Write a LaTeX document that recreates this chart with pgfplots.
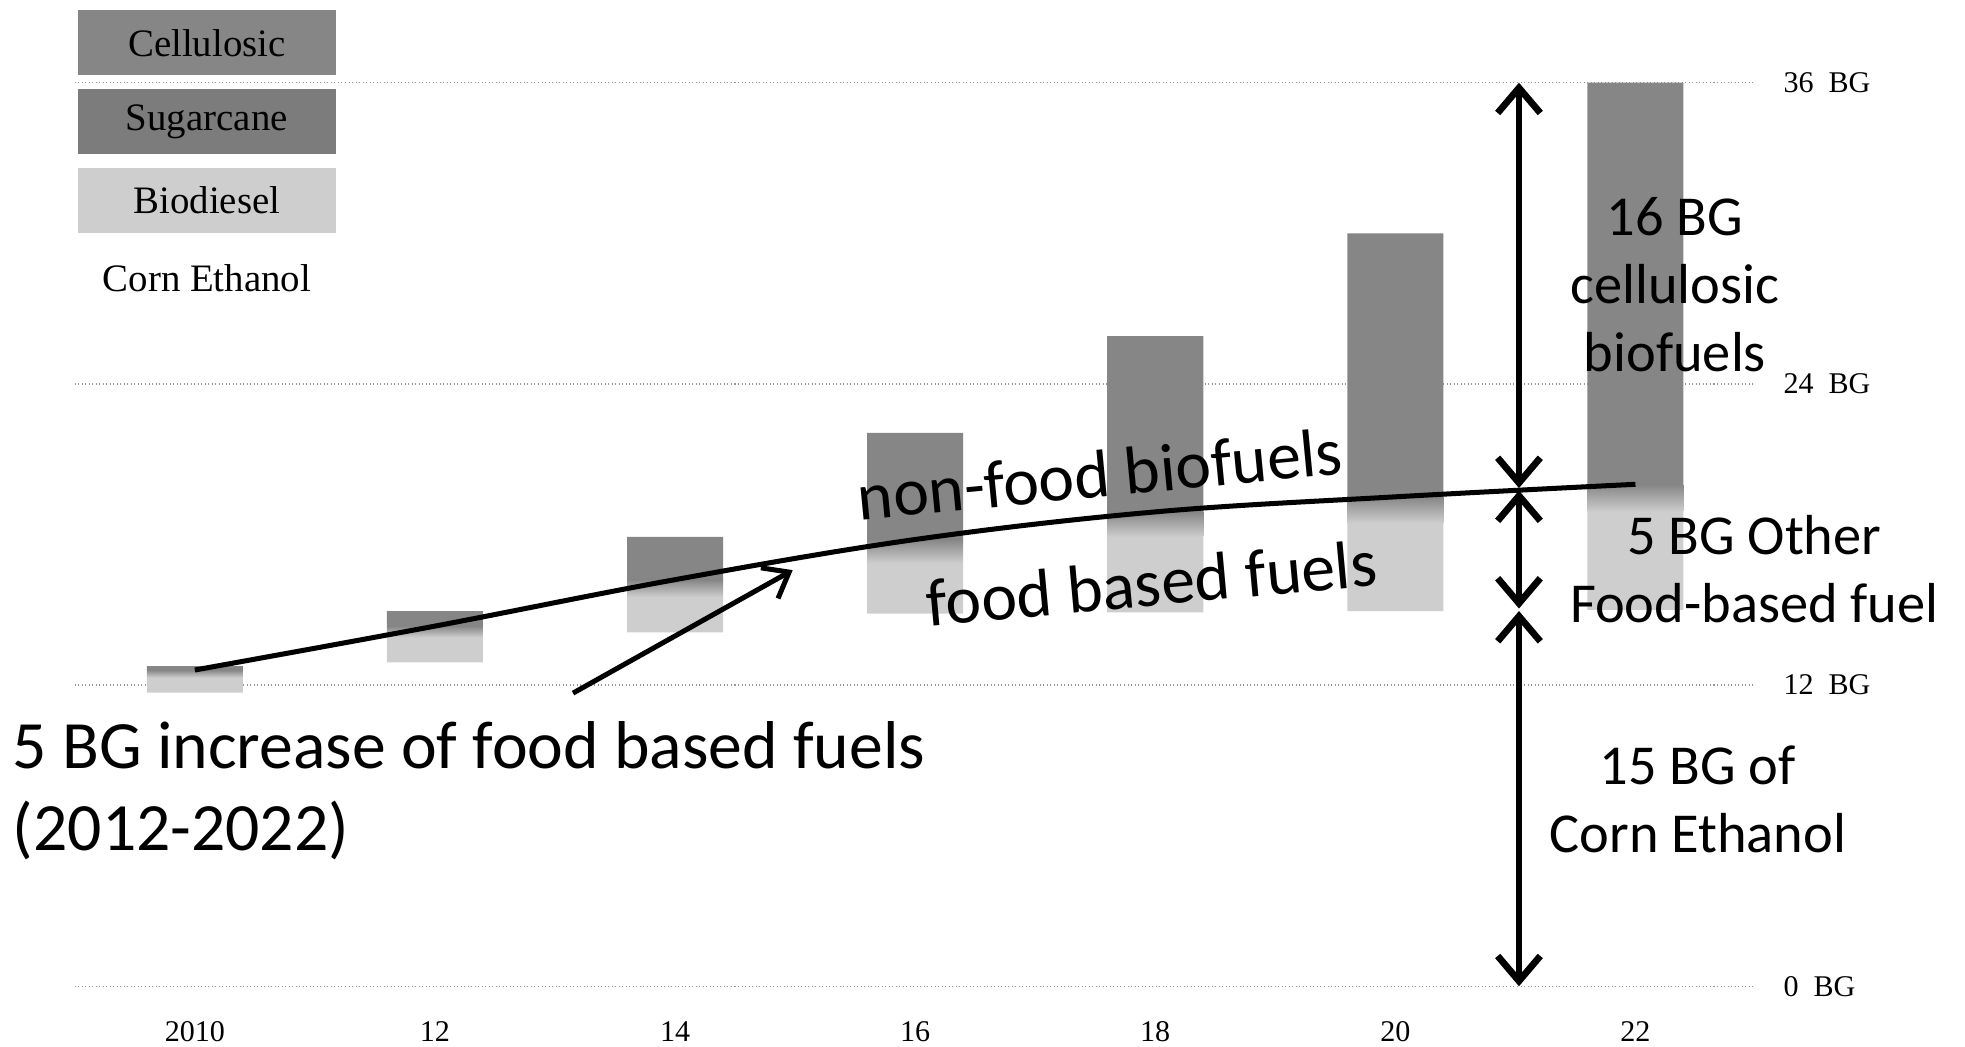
\documentclass[border=0pt]{standalone}
\usepackage{fontspec}
\setmainfont{Liberation Serif}
\newfontfamily\calibri{Carlito}
\usepackage{pgfplots}
\usepackage{pgfplotstable}
\pgfplotsset{compat=1.18}
\usetikzlibrary{arrows.meta}

\definecolor{celluc}{RGB}{134,134,134}
\definecolor{sugarc}{RGB}{124,124,124}
\definecolor{biodc}{RGB}{206,206,206}
\definecolor{gridgray}{RGB}{150,150,150}

% Renewable fuel volumes (billion gallons) by year
\pgfplotstableread{
year corn  biodiesel sugarcane cellulosic
2010 11.70 0.60 0.30 0.15
2012 12.90 1.00 0.45 0.60
2014 14.10 1.40 0.70 1.70
2016 14.85 2.00 0.95 4.25
2018 14.90 3.00 1.00 7.00
2020 14.95 3.50 1.05 10.50
2022 15.00 3.90 1.10 16.00
}\rfs

% one BG on the y axis, and the bar width, in pt
\def\bgunit{10.0139pt}
\def\barpt{38.32pt}

\pgfplotsset{
  frame/.style={
    at={(0,0)}, anchor=south west,
    scale only axis, width=670.55pt, height=360.5pt,
    xmin=2009, xmax=2023, ymin=0, ymax=36,
    clip=false,
  }
}

\begin{document}
\begin{tikzpicture}
\useasboundingbox (-29.85pt,-24pt) rectangle (754.15pt,393.5pt);

% stacked bars: corn ethanol is left blank at the base
\begin{axis}[
  frame,
  axis line style={draw=none},
  tick style={draw=none},
  /pgf/number format/assume math mode=true,
  ytick={0,12,24,36},
  yticklabels={0\ \ BG,12\ \ BG,24\ \ BG,36\ \ BG},
  yticklabel pos=right,
  yticklabel style={anchor=west, inner sep=0pt, xshift=11pt,
    font=\fontsize{12}{14}\selectfont},
  xtick={2010,2012,...,2022},
  xticklabels={2010,12,14,16,18,20,22},
  xticklabel style={anchor=center, yshift=-18pt,
    font=\fontsize{12}{14}\selectfont},
  ymajorgrids,
  grid style={gridgray, densely dotted, line width=0.6pt},
  ybar stacked, bar width=0.8,
]
\addplot[draw=none, fill=none] table[x=year, y=corn] {\rfs};
\addplot[draw=none, fill=biodc] table[x=year, y=biodiesel] {\rfs};
% sugarcane: each segment fades from the biodiesel tone into the dark tone
% (stacked nodes near coords sit at the middle of their segment)
\addplot[draw=none, fill=none,
  visualization depends on={\thisrow{sugarcane} \as \segh},
  nodes near coords={\relax},
  every node near coord/.append style={anchor=center, inner sep=0pt,
    outer sep=0pt, minimum width=\barpt, minimum height=\segh*\bgunit,
    top color=celluc, bottom color=biodc}]
  table[x=year, y=sugarcane] {\rfs};
\addplot[draw=none, fill=celluc] table[x=year, y=cellulosic] {\rfs};
\end{axis}

% food / non-food boundary and annotations
\begin{axis}[frame, hide axis]
\addplot[black, line width=2pt, smooth, tension=0.6]
  table[x=year, y expr=\thisrow{corn}+\thisrow{biodiesel}+\thisrow{sugarcane}] {\rfs};

% legend
\node[fill=celluc, minimum width=103pt, minimum height=26pt, inner sep=0pt,
  font=\fontsize{15.5}{18}\selectfont] at (axis cs:2010.10,37.59) {Cellulosic};
\node[fill=sugarc, minimum width=103pt, minimum height=26pt, inner sep=0pt,
  font=\fontsize{15.5}{18}\selectfont] at (axis cs:2010.10,34.45) {Sugarcane};
\node[fill=biodc, minimum width=103pt, minimum height=26pt, inner sep=0pt,
  font=\fontsize{15.5}{18}\selectfont] at (axis cs:2010.10,31.30) {Biodiesel};
\node[inner sep=0pt, font=\fontsize{15.5}{18}\selectfont]
  at (axis cs:2010.10,28.21) {Corn Ethanol};

% text labels
\node[anchor=base west, inner sep=0pt, font=\calibri\fontsize{27}{32}\selectfont]
  at (axis cs:2008.48,8.69) {5 BG increase of food based fuels};
\node[anchor=base west, inner sep=0pt, font=\calibri\fontsize{27}{32}\selectfont]
  at (axis cs:2008.48,5.40) {(2012-2022)};
\node[rotate=5.5, inner sep=0pt, font=\calibri\fontsize{27}{32}\selectfont]
  at (axis cs:2017.54,20.42) {non-food biofuels};
\node[rotate=5.2, inner sep=0pt, font=\calibri\fontsize{27}{32}\selectfont]
  at (axis cs:2017.97,16.08) {food based fuels};
\node[align=center, inner sep=0pt, font=\calibri\fontsize{22.5}{27}\selectfont]
  at (axis cs:2022.33,27.96) {16 BG\\cellulosic\\biofuels};
\node[align=center, inner sep=0pt, font=\calibri\fontsize{22.5}{27}\selectfont]
  at (axis cs:2022.99,16.62) {5 BG Other\\Food-based fuel};
\node[align=center, inner sep=0pt, font=\calibri\fontsize{22.5}{27}\selectfont]
  at (axis cs:2022.52,7.44) {15 BG of\\Corn Ethanol};

% arrows
\draw[-{Straight Barb[length=9pt,width=14pt]}, line width=2pt]
  (axis cs:2013.15,11.68) -- (axis cs:2014.98,16.58);
\begin{scope}[line width=2.7pt,
  every path/.style={{Straight Barb[length=10pt,width=17pt]}-{Straight Barb[length=10pt,width=17pt]}}]
\draw (axis cs:2021.03,36) -- (axis cs:2021.03,19.85);
\draw (axis cs:2021.03,19.75) -- (axis cs:2021.03,15.05);
\draw (axis cs:2021.03,14.95) -- (axis cs:2021.03,0);
\end{scope}
\end{axis}
\end{tikzpicture}
\end{document}
